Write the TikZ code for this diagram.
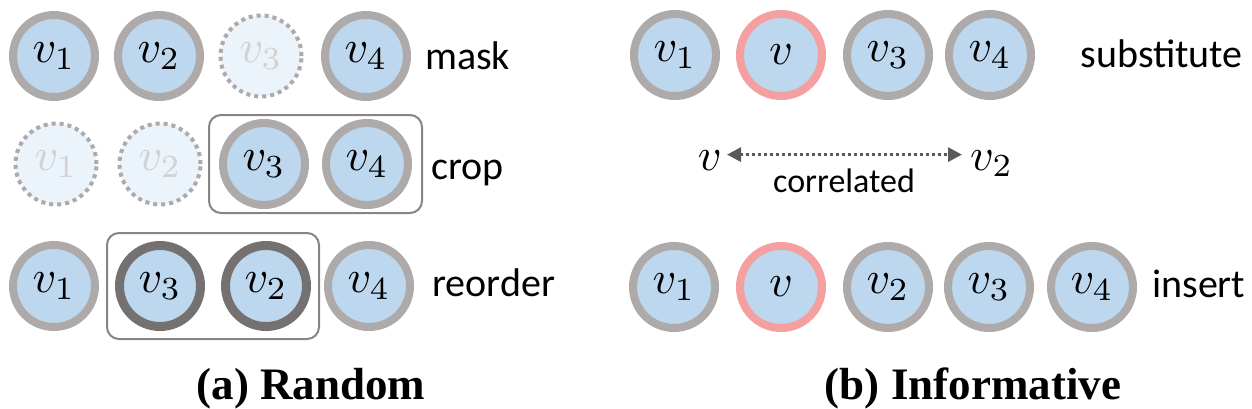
\documentclass[tikz,border=0pt]{standalone}
\usepackage{graphicx}
\usepackage{fontspec}
\setmainfont{Carlito}
\newfontfamily\capfont{Liberation Serif}
\usetikzlibrary{arrows.meta,fit,calc}
\newcommand\bigmath[1]{\scalebox{4.6}{$#1$}}
\definecolor{nodefill}{HTML}{BDD7EE}
\definecolor{ringgray}{HTML}{AEAAAA}
\definecolor{ringred}{HTML}{F4A0A0}
\definecolor{ringdark}{HTML}{767171}
\definecolor{fadefill}{HTML}{EBF3FB}
\definecolor{fadetext}{HTML}{D3D1D1}
\definecolor{boxgray}{HTML}{858585}
\definecolor{arrowgray}{HTML}{5A5A5A}
\begin{document}
\begin{tikzpicture}[x=1pt,y=-1pt,
  vnode/.style={circle,minimum size=82pt,inner sep=0pt,line width=8pt,
    draw=ringgray,fill=nodefill},
  rednode/.style={vnode,draw=ringred},
  darknode/.style={vnode,draw=ringdark,line width=9pt,minimum size=81pt},
  fadenode/.style={circle,minimum size=81pt,inner sep=0pt,line width=4pt,
    draw=ringgray,dash pattern=on 4pt off 4pt,fill=fadefill,text=fadetext},
  opbox/.style={draw=boxgray,line width=2pt,rounded corners=12pt,inner sep=0pt},
  oplabel/.style={anchor=base west,inner sep=0pt,font=\fontsize{40}{48}\selectfont},
  mathlabel/.style={inner sep=0pt},
  caption/.style={anchor=base,inner sep=0pt,font=\capfont\bfseries\fontsize{45}{54}\selectfont},
  corr/.style={draw=arrowgray,line width=3pt,dash pattern=on 3pt off 3pt,
    {Triangle[length=14pt,width=14pt]}-{Triangle[length=14pt,width=14pt]}}
]
\useasboundingbox (0,0) rectangle (1252,408);

% ---- (a) Random: mask
\node[vnode]    (m1) at (54,56)  {\bigmath{v_1}};
\node[vnode]    (m2) at (159,56) {\bigmath{v_2}};
\node[fadenode] (m3) at (261,56) {\bigmath{v_3}};
\node[vnode]    (m4) at (366,56) {\bigmath{v_4}};
\node[oplabel]  (lmask) at (425,69) {mask};

% ---- crop
\node[fadenode] (c1) at (56,164)  {\bigmath{v_1}};
\node[fadenode] (c2) at (160,164) {\bigmath{v_2}};
\node[vnode]    (c3) at (264,164) {\bigmath{v_3}};
\node[vnode]    (c4) at (367,164) {\bigmath{v_4}};
\node[opbox,fit=(c3)(c4),inner xsep=10pt,inner ysep=4pt] (cropbox) {};
\node[oplabel]  (lcrop) at (431,179) {crop};

% ---- reorder
\node[vnode]    (r1) at (54,286)  {\bigmath{v_1}};
\node[darknode] (r3) at (160,286) {\bigmath{v_3}};
\node[darknode] (r2) at (266,286) {\bigmath{v_2}};
\node[vnode]    (r4) at (369,286) {\bigmath{v_4}};
\node[opbox,fit=(r3)(r2),inner xsep=8pt,inner ysep=8pt] (reorderbox) {};
\node[oplabel]  (lreorder) at (432,296) {reorder};

\node[caption] (capa) at (311,399) {(a) Random};

% ---- (b) Informative: substitute
\node[vnode]   (s1) at (675,55) {\bigmath{v_1}};
\node[rednode] (sv) at (781,55) {\bigmath{v}};
\node[vnode]   (s3) at (888,55) {\bigmath{v_3}};
\node[vnode]   (s4) at (990,55) {\bigmath{v_4}};
\node[oplabel,anchor=base east] (lsub) at (1243,67) {substitute};

% ---- correlated
\node[mathlabel,anchor=base east] (lv)  at (722,170) {\bigmath{v}};
\node[mathlabel,anchor=base west] (lv2) at (970,170) {\bigmath{v_2}};
\draw[corr] ($(lv.east)+(5,-5.5)$) -- ($(lv.east -| lv2.west)+(-8,-5.5)$);
\node[oplabel,font=\fontsize{34}{40}\selectfont] (lcorr) at (773,192) {correlated};

% ---- insert
\node[vnode]   (i1) at (674,287)  {\bigmath{v_1}};
\node[rednode] (iv) at (781,287)  {\bigmath{v}};
\node[vnode]   (i2) at (888,287)  {\bigmath{v_2}};
\node[vnode]   (i3) at (989,287)  {\bigmath{v_3}};
\node[vnode]   (i4) at (1092,287) {\bigmath{v_4}};
\node[oplabel] (linsert) at (1152,297) {insert};

\node[caption] (capb) at (973,399) {(b) Informative};
\end{tikzpicture}
\end{document}
